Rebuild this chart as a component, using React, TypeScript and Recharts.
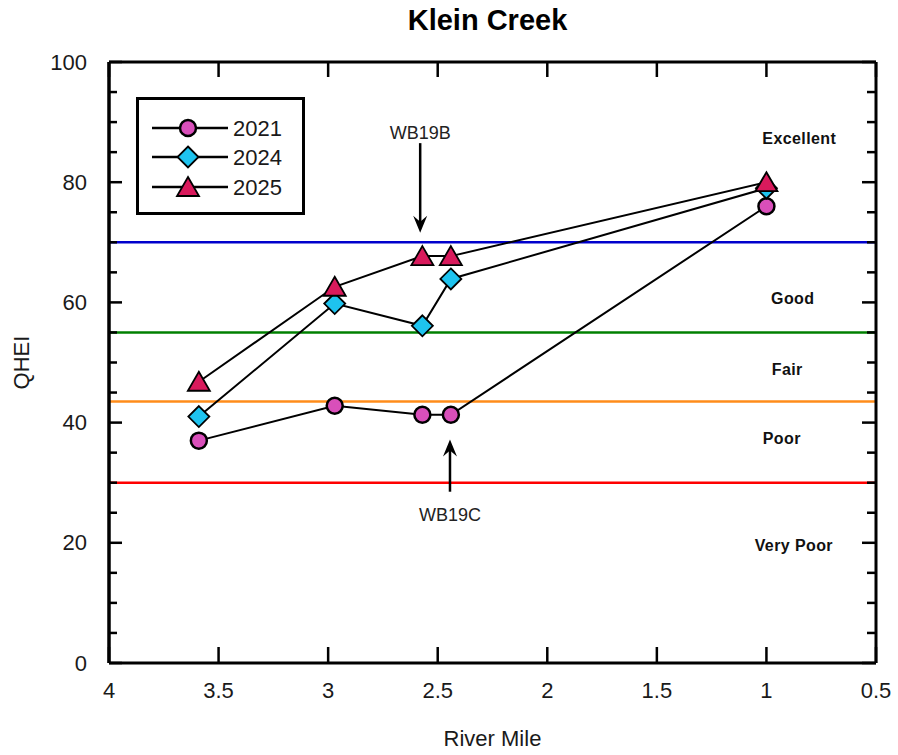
import React from 'react';
import {
  ComposedChart, Line, XAxis, YAxis, ReferenceLine, ReferenceDot, Legend,
} from 'recharts';

const years = ['2021', '2024', '2025'];
const riverMiles = [3.59, 2.97, 2.57, 2.44, 1.0];
const qhei2021 = [37.0, 42.8, 41.3, 41.3, 76.0];
const qhei2024 = [41.0, 59.8, 56.1, 63.9, 79.0];
const qhei2025 = [46.8, 62.6, 67.7, 67.7, 80.0];

const xTicks = [4, 3.5, 3, 2.5, 2, 1.5, 1, 0.5];
const yTicks = [0, 5, 10, 15, 20, 25, 30, 35, 40, 45, 50, 55, 60, 65, 70, 75, 80, 85, 90, 95, 100];

// band limits and their colours
const thresholds = [70, 55, 43.5, 30];
const thresholdColors = ['#0000cc', '#008000', '#ff8c1a', '#ff0000'];

// narrative labels for the bands, placed in data units
const bandNames = ['Excellent', 'Good', 'Fair', 'Poor', 'Very Poor'];
const bandLabelX = [0.85, 0.88, 0.905, 0.93, 0.875];
const bandLabelY = [87.2, 60.6, 48.8, 37.3, 19.6];

// site call-outs
const sites = ['WB19B', 'WB19C'];
const siteMile = [2.58, 2.444];
const siteTextY = [88.2, 24.6];
const siteArrowFrom = [86.5, 28.5];
const siteArrowTo = [71.6, 37.2];

const toPoints = (ys: number[]) => riverMiles.map((x, i) => ({ x, y: ys[i] }));
const seriesData = [toPoints(qhei2021), toPoints(qhei2024), toPoints(qhei2025)];
const markerShapes = ['circle', 'diamond', 'triangle'];
const markerFills = ['#d94fba', '#1ec3ef', '#d91a5c'];

const FONT = '"Liberation Sans", Arial, sans-serif';
const W = 898;
const H = 755;
const MARGIN = { top: 62, right: 22, bottom: 0, left: 0 };
const PLOT_TOP = MARGIN.top;
const PLOT_RIGHT = W - MARGIN.right;

const drawMarker = (shape: string, cx: number, cy: number, fill: string, key?: string) => {
  if (shape === 'circle') {
    return <circle key={key} cx={cx} cy={cy} r={8} fill={fill} stroke="#000" strokeWidth={2.5} />;
  }
  if (shape === 'diamond') {
    const d = 10.5;
    return (
      <polygon key={key} points={`${cx},${cy - d} ${cx + d},${cy} ${cx},${cy + d} ${cx - d},${cy}`}
        fill={fill} stroke="#000" strokeWidth={1.8} />
    );
  }
  return (
    <polygon key={key} points={`${cx},${cy - 10} ${cx + 11},${cy + 9} ${cx - 11},${cy + 9}`}
      fill={fill} stroke="#000" strokeWidth={1.8} />
  );
};

// left ticks also mirror onto the right frame edge
const LeftTick = (props: any) => {
  const { x, y, payload } = props;
  const major = payload.value % 20 === 0;
  return (
    <g>
      <line x1={x} x2={x + (major ? 13 : 8)} y1={y} y2={y} stroke="#000" strokeWidth={2.5} />
      <line x1={PLOT_RIGHT} x2={PLOT_RIGHT - (major ? 14 : 9)} y1={y} y2={y} stroke="#000" strokeWidth={2.5} />
      {major && (
        <text x={x - 22} y={y} textAnchor="end" dominantBaseline="central" fontSize={22} fill="#1a1a1a" fontFamily={FONT}>
          {payload.value}
        </text>
      )}
    </g>
  );
};

// bottom ticks also mirror onto the top frame edge
const BottomTick = (props: any) => {
  const { x, y, payload } = props;
  return (
    <g>
      <line x1={x} x2={x} y1={y} y2={y - 16} stroke="#000" strokeWidth={2.5} />
      <line x1={x} x2={x} y1={PLOT_TOP} y2={PLOT_TOP + 15} stroke="#000" strokeWidth={2.5} />
      <text x={x} y={y + 27} textAnchor="middle" dominantBaseline="central" fontSize={22} fill="#1a1a1a" fontFamily={FONT}>
        {payload.value}
      </text>
    </g>
  );
};

const Arrow = (props: any) => {
  const { x1, y1, x2, y2 } = props;
  const dir = y2 > y1 ? 1 : -1;
  return (
    <g>
      <line x1={x1} y1={y1} x2={x2} y2={y2 - dir * 8} stroke="#000" strokeWidth={2.5} />
      <polygon
        points={`${x2},${y2} ${x2 - 7},${y2 - dir * 17} ${x2},${y2 - dir * 11} ${x2 + 7},${y2 - dir * 17}`}
        fill="#000"
      />
    </g>
  );
};

const LegendBox = () => (
  <svg width={169} height={118} style={{ display: 'block' }}>
    <rect x={1.5} y={1.5} width={166} height={115} fill="#fff" stroke="#000" strokeWidth={3} />
    {years.map((yr, i) => {
      const cy = [31, 60, 90][i];
      return (
        <g key={yr}>
          <line x1={16} x2={92} y1={cy} y2={cy} stroke="#000" strokeWidth={2.5} />
          {drawMarker(markerShapes[i], 52, cy, markerFills[i])}
          <text x={97} y={cy} dominantBaseline="central" fontSize={22} fill="#1a1a1a" fontFamily={FONT}>{yr}</text>
        </g>
      );
    })}
  </svg>
);

export default function App() {
  return (
    <div style={{ position: 'absolute', left: 0, top: 0, width: W, height: H, background: '#fff', fontFamily: FONT }}>
      <div style={{ position: 'absolute', left: 0, top: 6, width: 975, textAlign: 'center', fontSize: 29, lineHeight: '29px', fontWeight: 'bold', color: '#000' }}>
        Klein Creek
      </div>
      <ComposedChart width={W} height={H} margin={MARGIN}>
        <XAxis
          type="number"
          dataKey="x"
          domain={[0.5, 4]}
          reversed
          ticks={xTicks}
          interval={0}
          allowDataOverflow
          height={92}
          tickSize={0}
          tickMargin={0}
          tickLine={false}
          axisLine={{ stroke: '#000', strokeWidth: 3 }}
          tick={<BottomTick />}
          label={(p: any) => (
            <text x={p.viewBox.x + p.viewBox.width / 2} y={738} textAnchor="middle" dominantBaseline="central" fontSize={22} fill="#1a1a1a" fontFamily={FONT}>
              River Mile
            </text>
          )}
        />
        <YAxis
          type="number"
          domain={[0, 100]}
          ticks={yTicks}
          interval={0}
          allowDataOverflow
          width={109}
          tickSize={0}
          tickMargin={0}
          tickLine={false}
          axisLine={{ stroke: '#000', strokeWidth: 3 }}
          tick={<LeftTick />}
          label={(p: any) => {
            const cx = 21;
            const cy = p.viewBox.y + p.viewBox.height / 2;
            return (
              <text x={cx} y={cy} transform={`rotate(-90, ${cx}, ${cy})`} textAnchor="middle" dominantBaseline="central" fontSize={22} fill="#1a1a1a" fontFamily={FONT}>
                QHEI
              </text>
            );
          }}
        />

        {thresholds.map((t, i) => (
          <ReferenceLine key={`t${i}`} y={t} stroke={thresholdColors[i]} strokeWidth={2.5} />
        ))}

        {/* frame edges */}
        <ReferenceLine y={100} stroke="#000" strokeWidth={3} />
        <ReferenceLine x={0.5} stroke="#000" strokeWidth={3} />
        <ReferenceLine x={4} stroke="#000" strokeWidth={3} />

        {bandNames.map((name, i) => (
          <ReferenceDot
            key={name}
            x={bandLabelX[i]}
            y={bandLabelY[i]}
            r={0}
            shape={(p: any) => (
              <text x={p.cx} y={p.cy} textAnchor="middle" dominantBaseline="central" fontSize={16} fontWeight="bold" fill="#111" fontFamily={FONT} letterSpacing={0.4}>
                {name}
              </text>
            )}
          />
        ))}

        {sites.map((s, i) => (
          <ReferenceLine
            key={`a${s}`}
            segment={[{ x: siteMile[i], y: siteArrowFrom[i] }, { x: siteMile[i], y: siteArrowTo[i] }]}
            shape={(p: any) => <Arrow {...p} />}
          />
        ))}
        {sites.map((s, i) => (
          <ReferenceDot
            key={`l${s}`}
            x={siteMile[i]}
            y={siteTextY[i]}
            r={0}
            shape={(p: any) => (
              <text x={p.cx} y={p.cy} textAnchor="middle" dominantBaseline="central" fontSize={18} fill="#222" fontFamily={FONT}>
                {s}
              </text>
            )}
          />
        ))}

        {years.map((yr, i) => (
          <Line
            key={yr}
            name={yr}
            data={seriesData[i]}
            dataKey="y"
            type="linear"
            stroke="#000"
            strokeWidth={2}
            isAnimationActive={false}
            activeDot={false}
            dot={(p: any) => drawMarker(markerShapes[i], p.cx, p.cy, markerFills[i], `${yr}-${p.index}`)}
          />
        ))}

        <Legend
          layout="vertical"
          align="center"
          verticalAlign="middle"
          wrapperStyle={{ left: 136, top: 97, width: 169, height: 118 }}
          content={() => <LegendBox />}
        />
      </ComposedChart>
    </div>
  );
}
